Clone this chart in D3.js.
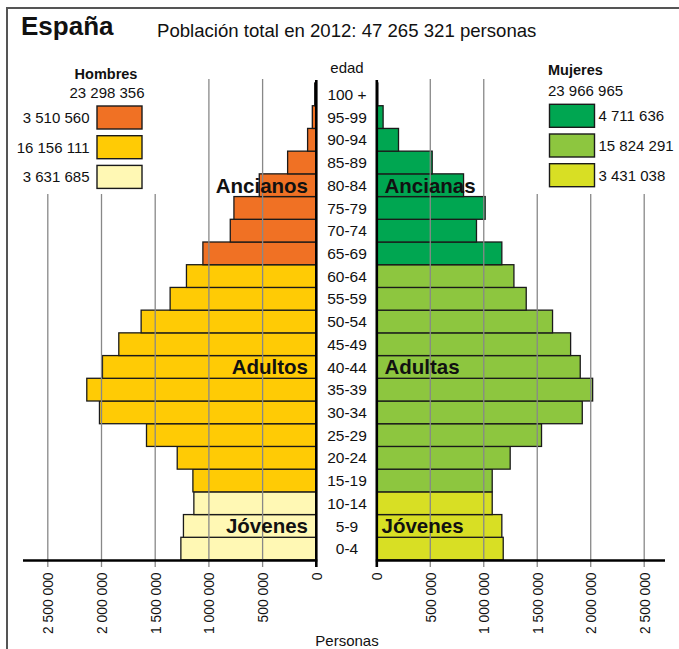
<!DOCTYPE html>
<html>
<head>
<meta charset="utf-8">
<script src="https://cdn.jsdelivr.net/npm/d3@7"></script>
<style>
  html, body { margin: 0; padding: 0; background: #fff; }
  svg { display: block; }
  text { font-family: "Liberation Sans", Arial, Helvetica, sans-serif; fill: #111; }
</style>
</head>
<body>
<svg id="chart" width="679" height="649"></svg>
<script>
// ---- Data ----
const ages = ["0-4","5-9","10-14","15-19","20-24","25-29","30-34","35-39","40-44","45-49",
              "50-54","55-59","60-64","65-69","70-74","75-79","80-84","85-89","90-94","95-99","100 +"];
const hombres = [1261000,1237000,1140000,1149000,1295000,1581000,2019000,2137000,1991000,1839000,
                 1631000,1361000,1209000,1056000,801000,767000,531000,267000,81000,37000,15000];
const mujeres = [1182000,1169000,1079000,1079000,1247000,1540000,1921000,2018000,1902000,1812000,
                 1643000,1397000,1282000,1169000,932000,1013000,811000,518000,203000,59000,10000];
// group of each age row: 0 = jóvenes, 1 = adultos, 2 = ancianos
const grupo = [0,0,0,1,1,1,1,1,1,1,1,1,1,2,2,2,2,2,2,2,2];
const tickValues = [0,500000,1000000,1500000,2000000,2500000];

const hombresTotal = "23 298 356";
const mujeresTotal = "23 966 965";
const hombresLegend = ["3 510 560","16 156 111","3 631 685"];   // ancianos, adultos, jóvenes
const mujeresLegend = ["4 711 636","15 824 291","3 431 038"];   // ancianas, adultas, jóvenes
const coloresH = ["#FFF8B4","#FFCB05","#F07124"]; // jóvenes, adultos, ancianos
const coloresM = ["#D8DF24","#8DC63F","#00A651"];

const titulo = "España";
const subtitulo = "Población total en 2012: 47 265 321 personas";

// ---- Drawing ----
const svg = d3.select("#chart");
const fmt = v => d3.format(",")(v).replace(/,/g, " ");

const xL = d3.scaleLinear().domain([0, 2500000]).range([316.3, 47.8]);
const xR = d3.scaleLinear().domain([0, 2500000]).range([376.8, 644.2]);
const y = d3.scaleBand().domain(ages.slice().reverse()).range([83, 560]).padding(0);
const baseY = 560.5;

// frame
svg.append("line").attr("x1", 6).attr("x2", 679).attr("y1", 8).attr("y2", 8)
  .attr("stroke", "#555").attr("stroke-width", 2);
svg.append("line").attr("x1", 7).attr("x2", 7).attr("y1", 8).attr("y2", 649)
  .attr("stroke", "#555").attr("stroke-width", 2);

// title
svg.append("text").attr("x", 21).attr("y", 35).attr("font-size", 26).attr("font-weight", "bold").text(titulo);
svg.append("text").attr("x", 157).attr("y", 36.5).attr("font-size", 18.6).text(subtitulo);

// bars
const gBars = svg.append("g");
gBars.selectAll("rect.h").data(ages).join("rect").attr("class", "h")
  .attr("x", (d, i) => xL(hombres[i]))
  .attr("width", (d, i) => xL(0) - xL(hombres[i]))
  .attr("y", d => y(d)).attr("height", y.bandwidth())
  .attr("fill", (d, i) => coloresH[grupo[i]])
  .attr("stroke", "#1a1a1a").attr("stroke-width", 1.3);
gBars.selectAll("rect.m").data(ages).join("rect").attr("class", "m")
  .attr("x", xR(0))
  .attr("width", (d, i) => xR(mujeres[i]) - xR(0))
  .attr("y", d => y(d)).attr("height", y.bandwidth())
  .attr("fill", (d, i) => coloresM[grupo[i]])
  .attr("stroke", "#1a1a1a").attr("stroke-width", 1.3);

// gridlines (over bars)
const tallTicks = [500000, 1000000];
const gGrid = svg.append("g");
tickValues.filter(v => v > 0).forEach(v => {
  const top = tallTicks.includes(v) ? 79 : 194;
  gGrid.append("line").attr("x1", xL(v)).attr("x2", xL(v)).attr("y1", top).attr("y2", 567)
    .attr("stroke", "#888").attr("stroke-width", 1.3);
  gGrid.append("line").attr("x1", xR(v)).attr("x2", xR(v)).attr("y1", top).attr("y2", 567)
    .attr("stroke", "#888").attr("stroke-width", 1.3);
});

// central axes
svg.append("line").attr("x1", xL(0)).attr("x2", xL(0)).attr("y1", 80).attr("y2", 567)
  .attr("stroke", "#000").attr("stroke-width", 2.6);
svg.append("line").attr("x1", xR(0)).attr("x2", xR(0)).attr("y1", 80).attr("y2", 567)
  .attr("stroke", "#000").attr("stroke-width", 2.6);
// baselines
svg.append("line").attr("x1", 23).attr("x2", xL(0) + 1).attr("y1", baseY).attr("y2", baseY)
  .attr("stroke", "#000").attr("stroke-width", 2.6);
svg.append("line").attr("x1", xR(0) - 1).attr("x2", 665).attr("y1", baseY).attr("y2", baseY)
  .attr("stroke", "#000").attr("stroke-width", 2.6);

// axes (labels only, via d3 axis)
function styleAxis(g) {
  g.select(".domain").remove();
  g.selectAll(".tick line").remove();
  g.selectAll(".tick text")
    .attr("transform", "rotate(-90)")
    .attr("x", -12).attr("y", 0).attr("dy", "0.36em")
    .attr("text-anchor", "end")
    .attr("font-size", 13.8)
    .attr("font-family", "'Liberation Sans', Arial, Helvetica, sans-serif")
    .attr("fill", "#111");
}
svg.append("g").attr("transform", `translate(0,${baseY})`)
  .call(d3.axisBottom(xL).tickValues(tickValues).tickFormat(fmt)).call(styleAxis);
svg.append("g").attr("transform", `translate(0,${baseY})`)
  .call(d3.axisBottom(xR).tickValues(tickValues).tickFormat(fmt)).call(styleAxis);

svg.append("text").attr("x", 347).attr("y", 646).attr("text-anchor", "middle")
  .attr("font-size", 15).text("Personas");

// age labels
svg.append("text").attr("x", 347).attr("y", 73).attr("text-anchor", "middle")
  .attr("font-size", 15).text("edad");
svg.selectAll("text.age").data(ages).join("text").attr("class", "age")
  .attr("x", 347).attr("y", d => y(d) + y.bandwidth() / 2).attr("dy", "0.36em")
  .attr("text-anchor", "middle").attr("font-size", 15.5).text(d => d);

// group labels
const bigFs = 20.5;
const labelRow = { "Ancianos": "80-84", "Adultos": "40-44", "Jóvenes": "5-9" };
const labelRowM = { "Ancianas": "80-84", "Adultas": "40-44", "Jóvenes": "5-9" };
Object.entries(labelRow).forEach(([t, a]) => {
  svg.append("text").attr("x", 308).attr("y", y(a) + y.bandwidth() / 2).attr("dy", "0.36em")
    .attr("text-anchor", "end").attr("font-size", bigFs).attr("font-weight", "bold").text(t);
});
Object.entries(labelRowM).forEach(([t, a]) => {
  svg.append("text").attr("x", t === "Jóvenes" ? 381.5 : 384.5).attr("y", y(a) + y.bandwidth() / 2).attr("dy", "0.36em")
    .attr("text-anchor", "start").attr("font-size", bigFs).attr("font-weight", "bold").text(t);
});

// legends
const legBoxW = 45, legBoxH = 23;
// Hombres
svg.append("text").attr("x", 106).attr("y", 79).attr("text-anchor", "middle")
  .attr("font-size", 14.5).attr("font-weight", "bold").text("Hombres");
svg.append("text").attr("x", 107).attr("y", 97.5).attr("text-anchor", "middle")
  .attr("font-size", 15).text(hombresTotal);
const hColsLegend = [coloresH[2], coloresH[1], coloresH[0]];
hombresLegend.forEach((t, i) => {
  const yy = 106 + i * 29.7;
  svg.append("rect").attr("x", 97).attr("y", yy).attr("width", legBoxW).attr("height", legBoxH)
    .attr("fill", hColsLegend[i]).attr("stroke", "#1a1a1a").attr("stroke-width", 1.4);
  svg.append("text").attr("x", 89.5).attr("y", yy + legBoxH / 2).attr("dy", "0.36em")
    .attr("text-anchor", "end").attr("font-size", 15).text(t);
});
// Mujeres
svg.append("text").attr("x", 548).attr("y", 75).attr("text-anchor", "start")
  .attr("font-size", 14.5).attr("font-weight", "bold").text("Mujeres");
svg.append("text").attr("x", 548).attr("y", 96).attr("text-anchor", "start")
  .attr("font-size", 15).text(mujeresTotal);
const mColsLegend = [coloresM[2], coloresM[1], coloresM[0]];
mujeresLegend.forEach((t, i) => {
  const yy = 104.3 + i * 29.7;
  svg.append("rect").attr("x", 549.5).attr("y", yy).attr("width", legBoxW).attr("height", legBoxH)
    .attr("fill", mColsLegend[i]).attr("stroke", "#1a1a1a").attr("stroke-width", 1.4);
  svg.append("text").attr("x", 598.5).attr("y", yy + legBoxH / 2).attr("dy", "0.36em")
    .attr("text-anchor", "start").attr("font-size", 15).text(t);
});
</script>
</body>
</html>
